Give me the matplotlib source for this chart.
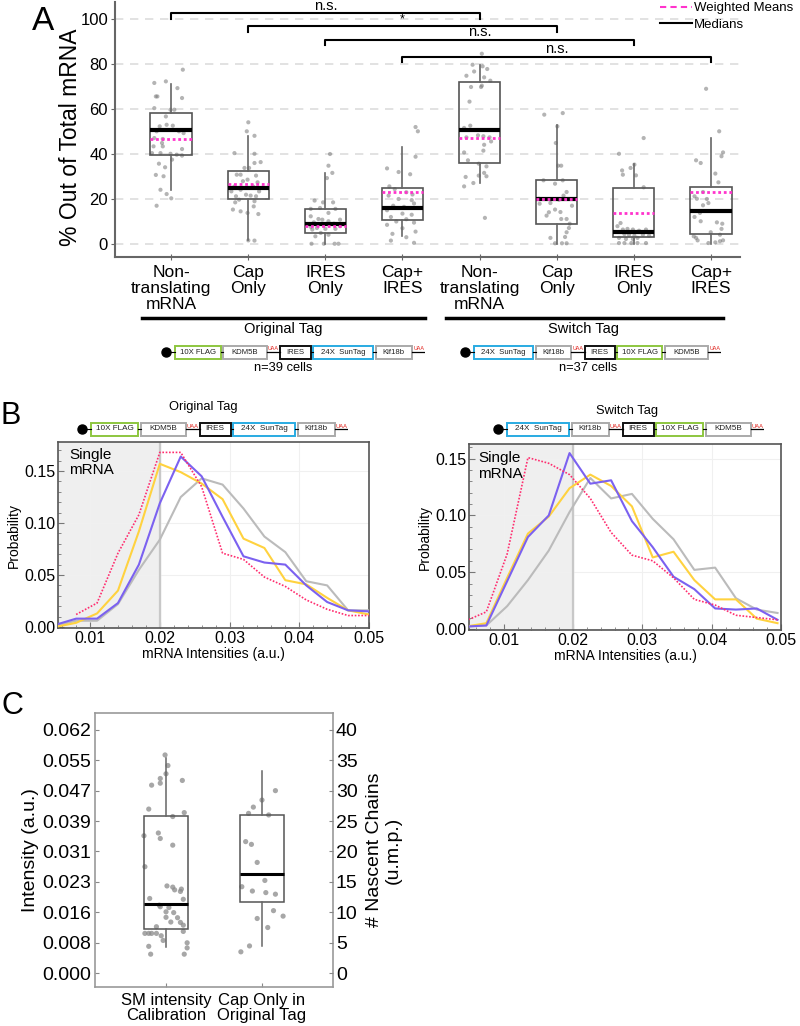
import numpy as np
import matplotlib
matplotlib.use("Agg")
import matplotlib.pyplot as plt
from matplotlib.patches import Rectangle
from matplotlib.lines import Line2D

plt.rcParams['font.family'] = ['Liberation Sans', 'DejaVu Sans']

# ===================== Panel A data =====================
A_LABELS = ["Non-\ntranslating\nmRNA", "Cap\nOnly", "IRES\nOnly", "Cap+\nIRES"] * 2
A_Q1 = [39.6, 20.0, 4.9, 10.5, 36.0, 9.0, 3.0, 4.4]
A_MED = [50.8, 24.9, 9.0, 16.1, 50.8, 20.1, 5.5, 14.7]
A_Q3 = [58.2, 32.3, 15.6, 24.9, 71.9, 28.3, 24.7, 25.2]
A_LO = [23.9, 1.6, 0.0, 3.7, 27.1, 0.0, 0.0, 0.0]
A_HI = [71.3, 48.1, 31.6, 43.0, 79.7, 52.9, 35.6, 47.1]
A_WMEAN = [46.5, 26.7, 8.1, 23.0, 47.0, 20.1, 13.9, 23.1]

A_PTS_Y = [
    [77.5, 71.6, 72.3, 69.3, 65.6, 65.6, 64.9, 60.4, 59.7, 59.7, 56.7, 53.0, 52.3, 52.6, 50.1, 50.1,
     49.3, 47.1, 46.7, 44.9, 43.4, 43.4, 42.2, 40.4, 40.4, 40.1, 39.7, 39.3, 37.5, 35.7, 34.1, 30.7,
     30.1, 24.1, 22.2, 20.3, 17.0],
    [54.1, 50.1, 48.1, 40.4, 40.1, 36.4, 36.0, 33.8, 33.8, 30.8, 30.8, 30.4, 28.6, 27.9, 27.4, 25.6,
     25.6, 24.1, 23.4, 23.4, 21.9, 21.5, 21.2, 21.2, 19.7, 19.0, 18.5, 16.7, 15.3, 14.5, 13.8, 13.3,
     1.6, 1.5],
    [40.0, 34.8, 29.3, 31.6, 19.3, 18.5, 18.5, 15.6, 16.0, 15.6, 13.8, 12.3, 11.1, 10.8, 10.8, 10.1,
     9.6, 9.0, 7.9, 7.6, 7.1, 6.7, 6.4, 6.7, 4.9, 3.4, 4.1, 0.1, 0.1, 0.1, 0.1],
    [52.0, 50.1, 38.8, 33.6, 32.0, 31.0, 25.6, 24.4, 23.0, 22.0, 21.5, 20.0, 19.5, 18.0, 17.0, 16.5,
     15.0, 13.5, 13.0, 12.0, 11.0, 10.0, 9.5, 8.5, 7.0, 5.5, 4.5, 3.0, 0.5, 1.5],
    [84.6, 79.7, 79.0, 77.8, 76.7, 74.8, 74.1, 69.8, 69.8, 70.4, 72.6, 63.3, 52.6, 51.6, 48.3, 47.4,
     47.4, 47.9, 45.6, 44.1, 41.5, 40.7, 37.2, 35.7, 34.5, 31.6, 30.4, 30.1, 29.8, 27.1, 25.6, 11.6],
    [57.5, 58.2, 52.3, 44.9, 34.8, 34.8, 28.3, 28.3, 26.8, 23.1, 21.5, 20.1, 19.7, 18.2, 17.9, 17.0,
     15.3, 14.2, 14.1, 12.6, 11.1, 11.1, 9.0, 7.1, 5.2, 2.7, 3.1, 0.3, 0.3, 0.3],
    [47.1, 40.1, 35.3, 33.8, 32.7, 30.8, 30.5, 25.2, 9.3, 7.9, 6.4, 6.7, 6.4, 5.9, 6.4, 4.4, 4.1,
     3.7, 4.1, 3.7, 2.7, 2.2, 2.2, 2.7, 0.4, 0.4, 0.4, 0.4, 0.4],
    [69.0, 50.1, 40.7, 39.0, 37.2, 36.0, 31.3, 27.4, 23.1, 21.2, 20.1, 20.0, 18.2, 17.2, 13.8, 12.0,
     10.1, 9.6, 9.0, 6.7, 5.2, 4.1, 3.4, 2.7, 1.6, 0.4, 0.7, 1.2, 1.6],
]
A_PTS_DX = [
    [0.15, -0.22, -0.07, 0.08, -0.20, -0.18, 0.14, -0.22, -0.01, 0.04, -0.07, -0.06, -0.15, 0.02, 0.10, -0.19,
     0.16, -0.22, -0.11, -0.12, -0.23, -0.11, 0.14, -0.25, -0.14, -0.01, 0.07, 0.14, 0.01, -0.16, -0.08, -0.20,
     -0.10, -0.14, -0.06, 0.00, -0.19],
    [0.00, -0.02, 0.08, -0.18, 0.08, 0.16, 0.08, -0.05, 0.01, -0.15, -0.10, 0.10, -0.01, -0.07, 0.12, -0.18,
     0.06, -0.10, 0.14, -0.22, -0.03, 0.03, 0.10, -0.16, -0.12, 0.08, -0.17, 0.07, -0.20, -0.10, -0.01, 0.13,
     0.00, 0.08],
    [0.06, 0.04, 0.02, 0.09, -0.14, -0.03, 0.10, -0.19, -0.07, 0.13, 0.04, -0.19, -0.09, -0.04, 0.19, 0.04,
     -0.15, 0.11, 0.19, -0.19, -0.11, 0.00, -0.17, 0.13, -0.06, -0.13, 0.04, -0.18, -0.02, 0.12, 0.17],
    [0.17, 0.20, 0.17, -0.20, -0.05, 0.10, -0.17, -0.10, 0.05, 0.13, -0.18, -0.05, 0.12, 0.15, -0.12, 0.02,
     -0.20, 0.00, 0.12, -0.15, 0.05, -0.08, 0.15, -0.20, 0.00, 0.17, -0.13, 0.05, 0.15, -0.15],
    [0.03, -0.09, 0.04, 0.10, -0.07, -0.17, 0.06, 0.02, -0.11, 0.03, 0.14, -0.13, -0.12, -0.20, -0.02, -0.17,
     0.13, 0.05, 0.15, 0.06, 0.05, -0.20, -0.15, -0.01, 0.09, 0.06, -0.01, 0.09, -0.18, -0.08, -0.20, 0.07],
    [-0.16, 0.08, 0.01, -0.01, 0.02, 0.06, -0.17, 0.08, -0.02, 0.13, 0.09, -0.23, 0.03, -0.08, -0.22, 0.20,
     -0.02, 0.05, -0.10, -0.13, 0.06, 0.13, 0.17, 0.16, 0.13, -0.08, 0.11, -0.02, 0.07, 0.13],
    [0.13, -0.19, 0.01, -0.04, -0.15, -0.14, 0.03, 0.13, -0.17, -0.21, -0.14, -0.08, -0.01, 0.07, 0.16, -0.12,
     -0.06, 0.01, 0.12, 0.20, -0.19, -0.10, -0.01, 0.05, -0.19, -0.12, -0.03, 0.05, 0.16],
    [-0.06, 0.11, 0.16, 0.14, -0.19, -0.13, 0.06, 0.10, -0.10, -0.21, -0.18, -0.05, -0.03, -0.10, -0.14, -0.21,
     -0.13, 0.08, 0.15, 0.14, 0.00, 0.12, -0.22, -0.19, -0.17, -0.03, 0.06, 0.12, 0.16],
]
# (group i, group j, bracket height, label)
BRACKETS = [(1, 5, 102.5, "n.s."), (2, 6, 96.9, "*"), (3, 7, 90.9, "n.s."), (4, 8, 83.3, "n.s.")]

# ===================== Panel B data =====================
BL_X = [0.005, 0.008, 0.011, 0.014, 0.017, 0.020, 0.023, 0.026, 0.029, 0.032, 0.035, 0.038, 0.041, 0.044, 0.047, 0.050]
BL_PURPLE = [0.002, 0.008, 0.008, 0.023, 0.060, 0.119, 0.164, 0.145, 0.106, 0.068, 0.062, 0.060, 0.040, 0.024, 0.016, 0.015]
BL_YELLOW = [0.000, 0.004, 0.013, 0.035, 0.092, 0.157, 0.149, 0.138, 0.123, 0.085, 0.076, 0.045, 0.041, 0.028, 0.016, 0.012]
BL_GRAY = [0.001, 0.006, 0.006, 0.022, 0.055, 0.084, 0.125, 0.143, 0.137, 0.114, 0.087, 0.072, 0.044, 0.040, 0.016, 0.016]
BL_PINK = [np.nan, 0.012, 0.023, 0.071, 0.108, 0.168, 0.168, 0.135, 0.071, 0.065, 0.048, 0.039, 0.026, 0.017, 0.011, 0.011]

BR_X = [0.0045, 0.0075, 0.0105, 0.0135, 0.0165, 0.0195, 0.0225, 0.0255, 0.0285, 0.0315, 0.0345, 0.0375, 0.0405, 0.0435, 0.0465, 0.0495]
BR_PURPLE = [0.002, 0.003, 0.042, 0.081, 0.100, 0.155, 0.128, 0.131, 0.095, 0.072, 0.046, 0.035, 0.018, 0.017, 0.018, 0.008]
BR_YELLOW = [0.002, 0.005, 0.045, 0.084, 0.099, 0.124, 0.136, 0.126, 0.108, 0.063, 0.068, 0.043, 0.026, 0.026, 0.009, 0.005]
BR_GRAY = [0.002, 0.003, 0.020, 0.043, 0.069, 0.103, 0.133, 0.115, 0.119, 0.097, 0.079, 0.052, 0.054, 0.027, 0.017, 0.014]
BR_PINK = [0.007, 0.015, 0.066, 0.151, 0.146, 0.136, 0.115, 0.085, 0.065, 0.060, 0.045, 0.026, 0.021, 0.012, 0.010, 0.008]

# ===================== Panel C data =====================
C_LABELS = ["SM intensity\nCalibration", "Cap Only in\nOriginal Tag"]
C_Q1 = [0.0112, 0.0180]
C_MED = [0.0176, 0.0252]
C_Q3 = [0.0401, 0.0404]
C_LO = [0.0066, 0.0069]
C_HI = [0.0549, 0.0514]
C_PTS_Y = [
    [0.0556, 0.0529, 0.0508, 0.0491, 0.0496, 0.0479, 0.0484, 0.0418, 0.0409, 0.0399, 0.0350, 0.0357, 0.0343,
     0.0326, 0.0271, 0.0222, 0.0219, 0.0212, 0.0214, 0.0208, 0.0190, 0.0173, 0.0167, 0.0169, 0.0188, 0.0156,
     0.0154, 0.0141, 0.0130, 0.0129, 0.0142, 0.0122, 0.0118, 0.0101, 0.0101, 0.0101, 0.0101, 0.0095, 0.0106,
     0.0083, 0.0068, 0.0077, 0.0064, 0.0048, 0.0048],
    [0.0465, 0.0441, 0.0423, 0.0407, 0.0403, 0.0335, 0.0328, 0.0282, 0.0236, 0.0220, 0.0209, 0.0205, 0.0201,
     0.0159, 0.0145, 0.0139, 0.0116, 0.0069, 0.0054],
]
C_PTS_DX = [
    [-0.01, 0.02, 0.00, 0.17, -0.06, -0.15, -0.06, -0.18, 0.19, 0.07, -0.23, -0.08, -0.06, 0.07, -0.22, 0.01,
     0.07, 0.09, 0.16, 0.15, -0.17, -0.07, 0.03, -0.06, 0.18, 0.00, 0.08, 0.12, 0.05, 0.15, 0.00, 0.18, -0.10,
     -0.22, -0.18, -0.15, -0.10, -0.05, 0.18, -0.03, -0.18, 0.22, 0.22, -0.16, 0.19],
    [0.14, 0.00, -0.09, -0.14, 0.07, -0.17, -0.11, -0.05, 0.03, -0.21, -0.10, 0.04, 0.14, 0.12, 0.22, -0.05,
     0.06, -0.13, -0.22],
]
C_TICK_LABELS = ["0.000", "0.008", "0.016", "0.023", "0.031", "0.039", "0.047", "0.055", "0.062"]
C_MAX_INT = 0.062
C_MAX_CHAINS = 40

# ===================== construct diagrams =====================
ORIG_PARTS = [("10X FLAG", "#8DC63F"), ("KDM5B", "#AAAAAA"), "UAA", ("IRES", "#111111"),
              ("24X  SunTag", "#29ABE2"), ("Kif18b", "#AAAAAA"), "UAA"]
SWITCH_PARTS = [("24X  SunTag", "#29ABE2"), ("Kif18b", "#AAAAAA"), "UAA", ("IRES", "#111111"),
                ("10X FLAG", "#8DC63F"), ("KDM5B", "#AAAAAA"), "UAA"]
PART_W = {"10X FLAG": 47, "KDM5B": 45, "IRES": 31, "24X  SunTag": 62, "Kif18b": 37}

W, H = 800, 1026
fig = plt.figure(figsize=(8, 10.26), dpi=100)


def px_axes(x0, y0, x1, y1):
    return fig.add_axes([x0 / W, 1 - y1 / H, (x1 - x0) / W, (y1 - y0) / H])


def fig_text(x, y, s, **kw):
    fig.text(x / W, 1 - y / H, s, ha=kw.pop('ha', 'center'), va=kw.pop('va', 'center'), **kw)


def fig_line(x0, x1, y, **kw):
    fig.add_artist(Line2D([x0 / W, x1 / W], [1 - y / H] * 2, transform=fig.transFigure, **kw))


def draw_construct(x0, x1, yc, parts, fs):
    ax = px_axes(x0, yc - 8, x1, yc + 8)
    ax.set_xlim(0, 266)
    ax.set_ylim(-8, 8)
    ax.axis('off')
    ax.plot([0, 9], [0, 0], color='black', lw=0.8)
    ax.plot([0], [0], 'o', color='black', ms=6.5, clip_on=False)
    x = 9
    prev_box = False
    for p in parts:
        if p == "UAA":
            ax.plot([x, x + 14], [0, 0], color='black', lw=0.9)
            ax.text(x + 7, 0.5, "UAA", color='#E0201A', fontsize=fs * 0.7, ha='center', va='bottom')
            x += 14
            prev_box = False
        else:
            name, col = p
            if prev_box:
                ax.plot([x, x + 2.5], [0, 0], color='black', lw=0.8)
                x += 2.5
            w = PART_W[name]
            ax.add_patch(Rectangle((x, -6.5), w, 13, facecolor='white', edgecolor=col, lw=1.4, clip_on=False))
            ax.text(x + w / 2, 0, name, fontsize=fs, ha='center', va='center', color='#222222')
            x += w
            prev_box = True


# ===================== Panel A =====================
axA = px_axes(115, 2, 740, 257)
pos = np.arange(1, 9)
for i in range(8):
    axA.scatter(pos[i] + np.array(A_PTS_DX[i]), A_PTS_Y[i], s=9, color='#777777', alpha=0.55,
                edgecolors='none', zorder=2)
stats = [dict(q1=A_Q1[i], med=A_MED[i], q3=A_Q3[i], whislo=A_LO[i], whishi=A_HI[i], mean=A_WMEAN[i])
         for i in range(8)]
axA.bxp(stats, positions=pos, widths=0.54, showfliers=False, showcaps=False, showmeans=True, meanline=True,
        patch_artist=True,
        boxprops=dict(facecolor='none', edgecolor='#555555', lw=1.2),
        whiskerprops=dict(color='#666666', lw=1.2),
        medianprops=dict(color='black', lw=3),
        meanprops=dict(color='#FF33CC', lw=2, ls=(0, (1, 1)), zorder=5))
axA.set_xlim(0.27, 8.38)
axA.set_ylim(-5.8, 107.6)
axA.set_yticks([0, 20, 40, 60, 80, 100])
axA.set_xticks(pos)
axA.set_xticklabels(A_LABELS, fontsize=12.5, linespacing=1.05)
axA.tick_params(axis='y', labelsize=12, length=3, pad=2, color='#666666')
axA.tick_params(axis='x', length=4, direction='inout', color='#666666', pad=4)
axA.yaxis.grid(True, ls=(0, (5, 4)), color='#DDDDDD', lw=1.2)
axA.set_axisbelow(True)
for s in ['top', 'right']:
    axA.spines[s].set_visible(False)
for s in ['left', 'bottom']:
    axA.spines[s].set_color('#666666')
    axA.spines[s].set_linewidth(1.5)
axA.set_ylabel("% Out of Total mRNA", fontsize=16.5)
axA.yaxis.set_label_coords(-0.052, 0.47)

for gi, gj, yb, lab in BRACKETS:
    axA.plot([gi, gi, gj, gj], [yb - 2.6, yb, yb, yb - 2.6], color='black', lw=1.5, clip_on=False)
    axA.text((gi + gj) / 2, yb + 0.3, lab, ha='center', va='bottom', fontsize=10.5 if lab != "*" else 9)

handles = [Line2D([], [], color='#FF33CC', lw=1.5, ls=(0, (3, 2))), Line2D([], [], color='black', lw=1.5)]
fig.legend(handles, ["Weighted Means", "Medians"], loc='upper left', bbox_to_anchor=(660 / W, 1 - 2 / H),
           frameon=False, fontsize=9.5, handlelength=2.4, handletextpad=0.15, labelspacing=0.35,
           borderaxespad=0, borderpad=0)

fig_line(142, 425, 318, color='black', lw=2.5)
fig_line(446, 723, 318, color='black', lw=2.5)
fig_text(283, 329, "Original Tag", fontsize=10.5)
fig_text(584, 329, "Switch Tag", fontsize=10.5)
draw_construct(166, 425, 352, ORIG_PARTS, 5.6)
draw_construct(465, 721, 352, SWITCH_PARTS, 5.6)
fig_text(283, 368, "n=39 cells", fontsize=9.3)
fig_text(588, 368, "n=37 cells", fontsize=9.3)

# ===================== Panel B =====================
def panel_b(box, xlim, ylim, xs, purple, yellow, gray, pink, text_xy):
    ax = px_axes(*box)
    ax.axvspan(xlim[0], 0.02, color='#EFEFEF', zorder=0)
    ax.axvline(0.02, color='#C8C8C8', lw=1.6, zorder=1)
    ax.plot(xs, gray, color='#BBBBBB', lw=1.5, zorder=3)
    ax.plot(xs, yellow, color='#FFD23F', lw=1.5, zorder=3)
    ax.plot(xs, purple, color='#7B61F0', lw=1.5, zorder=4)
    ax.plot(xs, pink, color='#FF2D6F', lw=1.2, ls=(0, (1, 1)), zorder=5)
    ax.set_xlim(*xlim)
    ax.set_ylim(*ylim)
    ax.set_xticks([0.01, 0.02, 0.03, 0.04, 0.05])
    ax.set_xticklabels(["0.01", "0.02", "0.03", "0.04", "0.05"])
    ax.set_yticks([0, 0.05, 0.10, 0.15])
    ax.set_yticklabels(["0.00", "0.05", "0.10", "0.15"])
    ax.minorticks_on()
    ax.tick_params(which='both', direction='in', color='#777777', labelsize=11.5, pad=2)
    ax.tick_params(which='major', length=4)
    ax.tick_params(which='minor', length=2)
    ax.grid(True, which='major', color='#F0F0F0', lw=0.8)
    ax.set_axisbelow(True)
    for s in ax.spines.values():
        s.set_color('#555555')
        s.set_linewidth(1.2)
    ax.set_ylabel("Probability", fontsize=10, labelpad=2)
    ax.set_xlabel("mRNA Intensities (a.u.)", fontsize=10, labelpad=1)
    ax.text(text_xy[0], text_xy[1], "Single\nmRNA", transform=ax.transAxes, ha='left', va='top',
            fontsize=11, linespacing=1.1, zorder=6)
    return ax


panel_b((58, 442, 369, 628), (0.0054, 0.05), (-0.001, 0.178), BL_X, BL_PURPLE, BL_YELLOW, BL_GRAY, BL_PINK,
        (0.035, 0.97))
panel_b((469, 444, 781, 630), (0.005, 0.05), (-0.001, 0.163), BR_X, BR_PURPLE, BR_YELLOW, BR_GRAY, BR_PINK,
        (0.03, 0.96))
fig_text(203, 407, "Original Tag", fontsize=9.3)
fig_text(627, 411, "Switch Tag", fontsize=9.3)
draw_construct(82, 348, 429, ORIG_PARTS, 5.9)
draw_construct(498, 764, 429, SWITCH_PARTS, 5.9)

# ===================== Panel C =====================
axC = px_axes(95, 713, 333, 987)
for i in range(2):
    axC.scatter(i + 1 + np.array(C_PTS_DX[i]), C_PTS_Y[i], s=14, color='#8A8A8A', alpha=0.75,
                edgecolors='none', zorder=2)
cstats = [dict(q1=C_Q1[i], med=C_MED[i], q3=C_Q3[i], whislo=C_LO[i], whishi=C_HI[i]) for i in range(2)]
axC.bxp(cstats, positions=[1, 2], widths=0.455, showfliers=False, showcaps=False, patch_artist=True,
        boxprops=dict(facecolor='none', edgecolor='#555555', lw=1.1),
        whiskerprops=dict(color='#666666', lw=1.1),
        medianprops=dict(color='black', lw=2.2))
ylo, yhi = -0.00357, 0.0663
axC.set_xlim(0.26, 2.74)
axC.set_ylim(ylo, yhi)
axC.set_yticks(np.linspace(0, C_MAX_INT, len(C_TICK_LABELS)))
axC.set_yticklabels(C_TICK_LABELS)
axC.set_xticks([1, 2])
axC.set_xticklabels(C_LABELS, fontsize=12, linespacing=1.0)
axC.tick_params(axis='y', labelsize=14, direction='in', length=3, pad=3, color='#888888')
axC.tick_params(axis='x', direction='in', length=3, pad=4, color='#888888')
for s in axC.spines.values():
    s.set_color('#999999')
    s.set_linewidth(1.2)
axC.set_ylabel("Intensity (a.u.)", fontsize=14, labelpad=2)
axC2 = axC.twinx()
k = C_MAX_CHAINS / C_MAX_INT
axC2.set_ylim(ylo * k, yhi * k)
axC2.set_yticks(np.arange(0, C_MAX_CHAINS + 1, 5))
axC2.tick_params(axis='y', labelsize=14, direction='in', length=3, pad=2, color='#888888')
for s in axC2.spines.values():
    s.set_visible(False)
axC2.set_ylabel("# Nascent Chains\n(u.m.p.)", fontsize=14, labelpad=6, linespacing=1.1)

# panel letters
fig_text(43, 22, "A", fontsize=24)
fig_text(11, 416, "B", fontsize=22)
fig_text(12, 706, "C", fontsize=22)

fig.savefig("out.png", dpi=100)
